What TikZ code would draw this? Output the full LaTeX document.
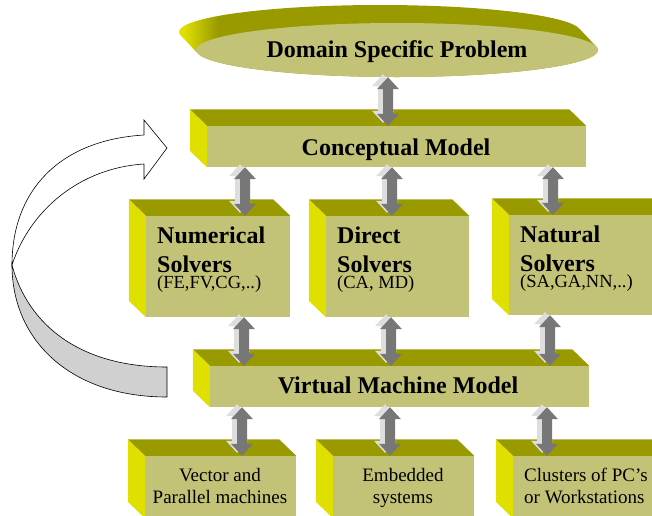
\documentclass[tikz,border=0pt]{standalone}
\usepackage{fontspec}
\setmainfont{Liberation Serif}
\usetikzlibrary{shapes.geometric,calc}
\definecolor{face}{RGB}{195,195,120}
\definecolor{topc}{RGB}{153,153,0}
\definecolor{sidec}{RGB}{224,224,0}
\definecolor{arrdark}{RGB}{119,119,119}
\definecolor{arrlight}{RGB}{222,222,222}
\definecolor{ribbon}{RGB}{208,208,208}
\pgfdeclarehorizontalshading{extr}{100bp}{color(0bp)=(sidec); color(26bp)=(sidec); color(30bp)=(topc); color(100bp)=(topc)}
\newcommand{\boxthreed}[1]{%
  \fill[topc] (#1.north west) -- (#1.north east) -- ([shift={(-17,16.5)}]#1.north east) -- ([shift={(-17,16.5)}]#1.north west) -- cycle;
  \fill[sidec] (#1.north west) -- ([shift={(-17,16.5)}]#1.north west) -- ([shift={(-17,16.5)}]#1.south west) -- (#1.south west) -- cycle;
}
\newcommand{\dblarrow}[3]{%
  \foreach \dx/\dy/\col in {-5/3/arrlight,0/0/arrdark}{
    \fill[\col] let \p1=(#1.south), \p2=(#2.north) in
      ({(#3+\dx)*1pt},{\y1+\dy}) -- ({(#3+\dx+11)*1pt},{\y1+\dy-12}) -- ({(#3+\dx+5)*1pt},{\y1+\dy-12})
      -- ({(#3+\dx+5)*1pt},{\y2+\dy+12}) -- ({(#3+\dx+11)*1pt},{\y2+\dy+12}) -- ({(#3+\dx)*1pt},{\y2+\dy})
      -- ({(#3+\dx-11)*1pt},{\y2+\dy+12}) -- ({(#3+\dx-5)*1pt},{\y2+\dy+12}) -- ({(#3+\dx-5)*1pt},{\y1+\dy-12})
      -- ({(#3+\dx-11)*1pt},{\y1+\dy-12}) -- cycle;
  }}
\begin{document}
\begin{tikzpicture}[x=1pt,y=1pt,
  facebox/.style={rectangle, fill=face, inner sep=0, draw=none},
  titlefont/.style={font=\fontsize{24}{26}\selectfont\bfseries, inner sep=0},
  subfont/.style={font=\fontsize{18.5}{20}\selectfont, inner sep=0},
  smallfont/.style={font=\fontsize{19}{21}\selectfont, inner sep=0}]
\useasboundingbox (0,0) rectangle (652,-515);
\clip (0,0) rectangle (652,-515);

% feedback ribbon arrow
\filldraw[fill=ribbon, draw=black, line width=0.6pt]
  (12,-265) .. controls (12,-340) and (70,-397) .. (167,-397) -- (167,-367)
  .. controls (80,-367) and (28,-325) .. (12,-265) -- cycle;
\filldraw[fill=white, draw=black, line width=0.6pt]
  (144,-164) -- (144,-179) -- (167,-148) -- (144,-120) -- (144,-135)
  .. controls (60,-140) and (12,-190) .. (12,-265)
  .. controls (30,-210) and (80,-168) .. (144,-164) -- cycle;

% top ellipse
\begin{scope}
  \clip \foreach \i in {0,...,17}{ (397-\i,-50+\i*18/17) ellipse [x radius=201, y radius=27] };
  \shade[shading=extr] (175,0) rectangle (605,-80);
\end{scope}
\node[ellipse, fill=face, minimum width=402, minimum height=54, inner sep=0] (dsp) at (397,-50) {};
\node[titlefont, anchor=base] (dspt) at (397,-57) {Domain Specific Problem};

% conceptual model
\node[facebox, minimum width=379, minimum height=41] (cm) at (396.5,-146.5) {};
\boxthreed{cm}
\node[titlefont, anchor=base] (cmt) at (396,-155) {Conceptual Model};

% solvers
\node[facebox, minimum width=144, minimum height=101] (num) at (218,-266.5) {};
\node[facebox, minimum width=143, minimum height=101] (dir) at (397.5,-266.5) {};
\node[facebox, minimum width=160, minimum height=100] (nat) at (589,-265) {};
\boxthreed{num}\boxthreed{dir}\boxthreed{nat}
\node[titlefont, anchor=base west] (num1) at (157,-243) {Numerical};
\node[titlefont, anchor=base west] (num2) at (157,-272) {Solvers};
\node[subfont, anchor=base west] (num3) at (157,-288) {(FE,FV,CG,..)};
\node[titlefont, anchor=base west] (dir1) at (337,-243) {Direct};
\node[titlefont, anchor=base west] (dir2) at (337,-272) {Solvers};
\node[subfont, anchor=base west] (dir3) at (337,-288) {(CA, MD)};
\node[titlefont, anchor=base west] (nat1) at (520,-242) {Natural};
\node[titlefont, anchor=base west] (nat2) at (520,-271) {Solvers};
\node[subfont, anchor=base west] (nat3) at (520,-287) {(SA,GA,NN,..)};

% virtual machine model
\node[facebox, minimum width=379, minimum height=41] (vmm) at (399.5,-386.5) {};
\boxthreed{vmm}
\node[titlefont, anchor=base] (vmmt) at (398,-393) {Virtual Machine Model};

% machines
\node[facebox, minimum width=151, minimum height=62] (b1) at (220.5,-487) {};
\node[facebox, minimum width=141, minimum height=62] (b2) at (403.5,-487) {};
\node[facebox, minimum width=160, minimum height=62] (b3) at (593,-487) {};
\boxthreed{b1}\boxthreed{b2}\boxthreed{b3}
\node[smallfont, anchor=base] (b1a) at (220,-481) {Vector and};
\node[smallfont, anchor=base] (b1b) at (220,-503) {Parallel machines};
\node[smallfont, anchor=base] (b2a) at (403,-481) {Embedded};
\node[smallfont, anchor=base] (b2b) at (403,-503) {systems};
\node[smallfont, anchor=base west] (b3a) at (524,-481) {Clusters of PC’s};
\node[smallfont, anchor=base west] (b3b) at (524,-503) {or Workstations};

% arrows
\dblarrow{dsp}{cm}{388}
\dblarrow{cm}{num}{245}
\dblarrow{cm}{dir}{392}
\dblarrow{cm}{nat}{553}
\dblarrow{num}{vmm}{244}
\dblarrow{dir}{vmm}{391}
\dblarrow{nat}{vmm}{550}
\dblarrow{vmm}{b1}{242}
\dblarrow{vmm}{b2}{390}
\dblarrow{vmm}{b3}{547}
\end{tikzpicture}
\end{document}
